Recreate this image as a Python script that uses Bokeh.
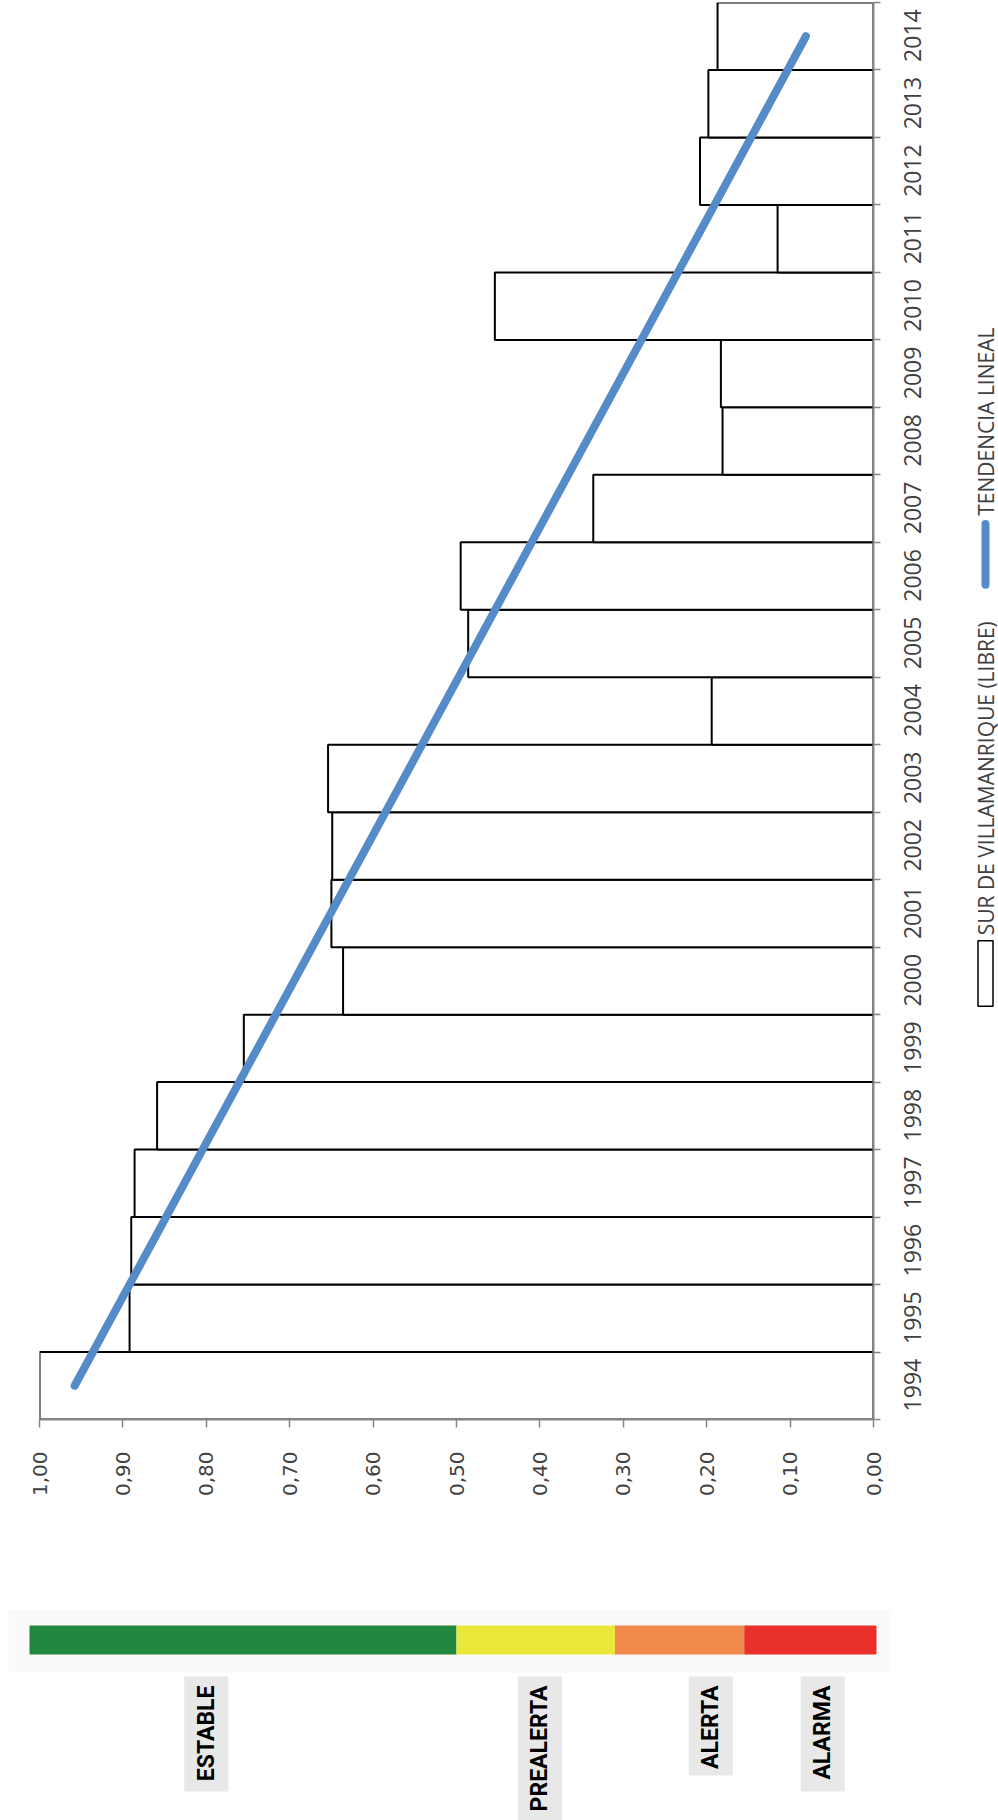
import math
import numpy as np
from bokeh.plotting import figure
from bokeh.models import Range1d, FixedTicker, CustomJSTickFormatter
from bokeh.layouts import column, row
from bokeh.core.properties import value
from bokeh.embed import file_html
from bokeh.resources import INLINE

# ---- data -------------------------------------------------------------
years = list(range(1994, 2015))
indice = [1.000, 0.892, 0.890, 0.886, 0.859, 0.755, 0.636, 0.650, 0.649, 0.654,
          0.194, 0.486, 0.495, 0.336, 0.181, 0.183, 0.454, 0.115, 0.208, 0.198, 0.187]
value_ticks = [0.0, 0.1, 0.2, 0.3, 0.4, 0.5, 0.6, 0.7, 0.8, 0.9, 1.0]
serie_label = "SUR DE VILLAMANRIQUE (LIBRE)"
trend_label = "TENDENCIA LINEAL"

estado_labels = ["ESTABLE", "PREALERTA", "ALERTA", "ALARMA"]
estado_upper = [1.00, 0.50, 0.31, 0.155]
estado_lower = [0.50, 0.31, 0.155, 0.00]
estado_colors = ["#21873f", "#ebe83b", "#f1894b", "#e9302a"]
estado_label_x = [0.800, 0.400, 0.195, 0.061]

# linear trend of the index
slope, intercept = np.polyfit(years, indice, 1)
trend_years = [years[0], years[-1]]
trend_vals = [slope * y + intercept for y in trend_years]

# ---- geometry ---------------------------------------------------------
W_MAIN, H_MAIN = 940, 1560
B_LEFT, B_RIGHT, B_TOP, B_BOTTOM = 39, 67, 2, 141
FRAME_W = W_MAIN - B_LEFT - B_RIGHT
W_LEG = 998 - W_MAIN
H_SCALE = 260

AXIS_GREY = "#868686"
TEXT_GREY = "#404040"
TREND_BLUE = "#558bc9"

# rotated year labels start at their tick, so the tick sits half a label
# below the band centre; the formatter rounds back to the year
LABEL_SHIFT = 0.38

# ---- main chart ------------------------------------------------------
p = figure(width=W_MAIN, height=H_MAIN,
           x_range=Range1d(1.0, 0.0), y_range=Range1d(1993.5, 2014.5),
           y_axis_location="right", x_axis_location="below",
           output_backend="svg", toolbar_location=None,
           min_border_left=B_LEFT, min_border_right=B_RIGHT,
           min_border_top=B_TOP, min_border_bottom=B_BOTTOM)
p.grid.visible = False
p.outline_line_color = None
p.background_fill_color = "white"
p.border_fill_color = "white"

p.hbar(y=years, left=0, right=indice, height=1.0,
       fill_color="white", line_color="black", line_width=2)
p.line(x=trend_vals, y=trend_years, line_width=8, line_color=TREND_BLUE,
       line_cap="round")

xa = p.xaxis[0]
xa.ticker = FixedTicker(ticks=value_ticks)
xa.formatter = CustomJSTickFormatter(code="return tick.toFixed(2).replace('.', ',');")
xa.major_label_orientation = math.pi / 2
xa.major_tick_in = 0
xa.major_tick_out = 8
xa.minor_tick_line_color = None
xa.axis_line_color = AXIS_GREY
xa.axis_line_width = 2
xa.major_tick_line_color = AXIS_GREY
xa.major_tick_line_width = 1.5
xa.major_label_text_font = "DejaVu Sans"
xa.major_label_text_font_size = "20px"
xa.major_label_text_color = TEXT_GREY
xa.major_label_standoff = 24

ya = p.yaxis[0]
ya.ticker = FixedTicker(ticks=[y - LABEL_SHIFT for y in years],
                        minor_ticks=[y - 0.5 for y in years] + [years[-1] + 0.5])
ya.formatter = CustomJSTickFormatter(code="return String(Math.round(tick));")
ya.major_tick_line_color = None
ya.major_tick_in = 0
ya.major_tick_out = 0
ya.minor_tick_in = 0
ya.minor_tick_out = 7
ya.minor_tick_line_color = AXIS_GREY
ya.minor_tick_line_width = 1.5
ya.axis_line_color = AXIS_GREY
ya.axis_line_width = 2
ya.major_label_orientation = math.pi / 2
ya.major_label_text_font = "Open Sans"
ya.major_label_text_font_size = "23px"
ya.major_label_text_color = TEXT_GREY
ya.major_label_standoff = 32

# ---- legend column (rotated) -----------------------------------------
leg = figure(width=W_LEG, height=H_MAIN,
             x_range=Range1d(0, W_LEG), y_range=Range1d(H_MAIN, 0),
             output_backend="svg", toolbar_location=None,
             min_border_left=0, min_border_right=0, min_border_top=0, min_border_bottom=0)
leg.axis.visible = False
leg.grid.visible = False
leg.outline_line_color = None

leg.line(x=[45, 45], y=[574, 641], line_width=8, line_color=TREND_BLUE, line_cap="round")
leg.text(x=[45], y=[565], text=[trend_label], angle=math.pi / 2,
         text_align="left", text_baseline="middle",
         text_font=value("Open Sans"), text_font_size="21px", text_color=TEXT_GREY)
leg.rect(x=[45], y=[1069], width=15, height=72,
         fill_color="white", line_color="black", line_width=1.5)
leg.text(x=[45], y=[1027], text=[serie_label], angle=math.pi / 2,
         text_align="left", text_baseline="middle",
         text_font=value("Open Sans"), text_font_size="21px", text_color=TEXT_GREY)

# ---- status scale under the value axis -------------------------------
x0 = 1.0 + B_LEFT / FRAME_W
x1 = -(998 - B_LEFT - FRAME_W) / FRAME_W
s = figure(width=998, height=H_SCALE,
           x_range=Range1d(x0, x1), y_range=Range1d(H_SCALE, 0),
           output_backend="svg", toolbar_location=None,
           min_border_left=0, min_border_right=0, min_border_top=0, min_border_bottom=0)
s.axis.visible = False
s.grid.visible = False
s.outline_line_color = None

px = 1.0 / FRAME_W
s.quad(left=[estado_upper[0] + 31 * px], right=[estado_lower[-1] - 17 * px], top=[50], bottom=[112],
       fill_color="#fbf9f9", line_color=None)
lefts = list(estado_upper)
rights = list(estado_lower)
lefts[0] += 10 * px
rights[-1] -= 3 * px
s.quad(left=lefts, right=rights, top=65, bottom=94,
       fill_color=estado_colors, line_color=None)

label_bottoms = [231, 260, 215, 231]
s.quad(left=[x + 22 * px for x in estado_label_x], right=[x - 22 * px for x in estado_label_x],
       top=116, bottom=label_bottoms, fill_color="#e8e8e8", line_color=None)
s.text(x=estado_label_x, y=[125] * 4, text=estado_labels, angle=math.pi / 2,
       text_align="right", text_baseline="middle",
       text_font=value("Roboto"), text_font_style="bold", text_font_size="23px",
       text_color="black")

layout = column(row(p, leg, spacing=0), s, spacing=0)
open("out.html", "w").write(file_html(layout, INLINE))
